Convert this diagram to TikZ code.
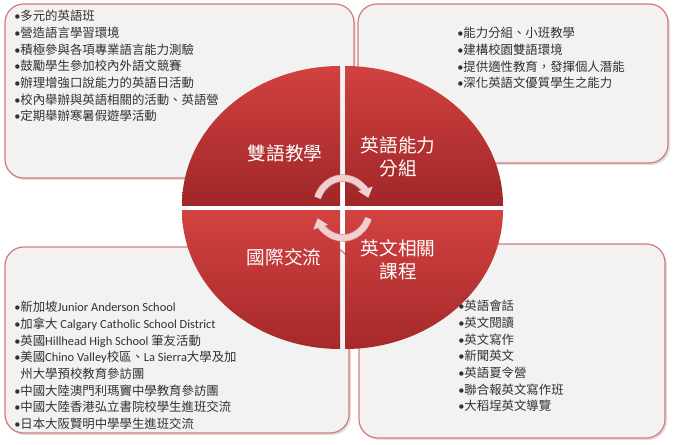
\documentclass[tikz,border=0pt]{standalone}
\usepackage{fontspec}
\setmainfont{Carlito}
\newfontfamily\cjk{Noto Sans CJK TC}
\newfontfamily\lat{Carlito}
\usetikzlibrary{arrows.meta}
\definecolor{boxfill}{RGB}{242,242,242}
\definecolor{boxline}{RGB}{212,122,122}
\definecolor{qtop}{RGB}{210,66,64}
\definecolor{qbot}{RGB}{160,38,40}
\definecolor{arrowcol}{RGB}{242,206,206}
\definecolor{arrowedge}{RGB}{205,150,150}
\definecolor{txt}{RGB}{50,50,50}
\tikzset{
  infobox/.style={draw=boxline, line width=0.9pt, fill=boxfill, rounded corners=14pt},
  shadowbox/.style={fill=black!12, rounded corners=14pt},
  quadlabel/.style={text=white, font=\cjk\fontsize{14}{17.5}\selectfont, align=center, inner sep=0pt},
  listtext/.style={text=txt, font=\cjk\fontsize{9.3}{12.5}\selectfont, align=left, anchor=north west, inner sep=0pt},
  cyclearrow/.style={draw=arrowcol, line width=4.5pt, -{Triangle[length=7pt,width=11pt]}},
  cycleedge/.style={draw=arrowedge, line width=5.5pt},
}
\newcommand{\bul}{{\lat\textbullet}}
\begin{document}
\begin{tikzpicture}[x=0.75pt,y=-0.75pt]
\useasboundingbox (0,0) rectangle (680,445);
% shadows
\fill[shadowbox] (6,6) rectangle (356,180);
\fill[shadowbox] (359,6) rectangle (670,165);
\fill[shadowbox] (6,249) rectangle (351,435);
\fill[shadowbox] (361,246) rectangle (667,440);
% boxes
\draw[infobox] (5,4) rectangle (354,178);
\draw[infobox] (358,4) rectangle (668,163);
\draw[infobox] (5,247) rectangle (349,433);
\draw[infobox] (359,244) rectangle (665,438);
% quadrants
\begin{scope}
\clip (340,205) ellipse [x radius=158, y radius=139];
\shade[top color=qtop, bottom color=qbot] (180,64) rectangle (340,205);
\end{scope}
\begin{scope}
\clip (345,205) ellipse [x radius=158, y radius=139];
\shade[top color=qtop, bottom color=qbot] (345,64) rectangle (505,205);
\end{scope}
\begin{scope}
\clip (340,210) ellipse [x radius=158, y radius=139];
\shade[top color=qtop, bottom color=qbot!90!qtop] (180,210) rectangle (340,351);
\end{scope}
\begin{scope}
\clip (345,210) ellipse [x radius=158, y radius=139];
\shade[top color=qtop, bottom color=qbot!90!qtop] (345,210) rectangle (505,351);
\end{scope}
% cycle arrows
\coordinate (c) at (343,208);
\draw[cycleedge] ([shift={(-160:27 and 30)}]c) arc[start angle=-160, end angle=-35, x radius=27, y radius=30];
\draw[cycleedge] ([shift={(20:27 and 30)}]c) arc[start angle=20, end angle=145, x radius=27, y radius=30];
\draw[cyclearrow] ([shift={(-160:27 and 30)}]c) arc[start angle=-160, end angle=-20, x radius=27, y radius=30];
\draw[cyclearrow] ([shift={(20:27 and 30)}]c) arc[start angle=20, end angle=160, x radius=27, y radius=30];
% quadrant labels
\node[quadlabel] (q1) at (285,153) {雙語教學};
\node[quadlabel] (q2) at (398,157) {英語能力\\分組};
\node[quadlabel] (q3) at (284,257) {國際交流};
\node[quadlabel] (q4) at (398,260) {英文相關\\課程};
% lists
\node[listtext] (l1) at (14,10) {\bul 多元的英語班\\
\bul 營造語言學習環境\\
\bul 積極參與各項專業語言能力測驗\\
\bul 鼓勵學生參加校內外語文競賽\\
\bul 辦理增強口說能力的英語日活動\\
\bul 校內舉辦與英語相關的活動、英語營\\
\bul 定期舉辦寒暑假遊學活動};
\node[listtext] (l2) at (457,27) {\bul 能力分組、小班教學\\
\bul 建構校園雙語環境\\
\bul 提供適性教育，發揮個人潛能\\
\bul 深化英語文優質學生之能力};
\node[listtext] (l3) at (14,301) {\bul 新加坡{\lat Junior Anderson School}\\
\bul 加拿大 {\lat Calgary Catholic School District}\\
\bul 英國{\lat Hillhead High School} 筆友活動\\
\bul 美國{\lat Chino Valley}校區、{\lat La Sierra}大學及加\\
\phantom{\bul}州大學預校教育參訪團\\
\bul 中國大陸澳門利瑪竇中學教育參訪團\\
\bul 中國大陸香港弘立書院校學生進班交流\\
\bul 日本大阪賢明中學學生進班交流};
\node[listtext] (l4) at (458,300) {\bul 英語會話\\
\bul 英文閱讀\\
\bul 英文寫作\\
\bul 新聞英文\\
\bul 英語夏令營\\
\bul 聯合報英文寫作班\\
\bul 大稻埕英文導覽};
\end{tikzpicture}
\end{document}
